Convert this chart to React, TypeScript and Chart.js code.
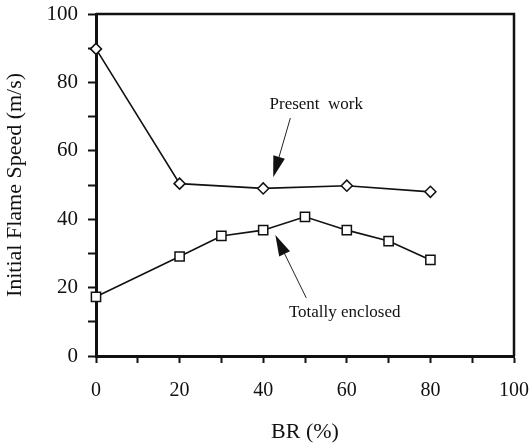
import React, { useEffect, useRef } from "react";
import { Chart, registerables } from "chart.js";

Chart.register(...registerables);

// Blockage ratio (%) for each series
const presentBR = [0, 20, 40, 60, 80];
const presentSpeed = [89.8, 50.4, 49.0, 49.8, 48.0];

const enclosedBR = [0, 20, 30, 40, 50, 60, 70, 80];
const enclosedSpeed = [17.3, 29.1, 35.1, 36.8, 40.7, 36.8, 33.6, 28.1];

const labeledTicks = [0, 20, 40, 60, 80, 100];

const SERIF = "'Liberation Serif', 'Times New Roman', serif";

// Callout text with an arrow pointing toward a curve (data coordinates)
const callouts = [
  { text: "Present  work", at: [52.7, 73.4], from: [46.5, 69.6], to: [42.4, 52.3] },
  { text: "Totally enclosed", at: [59.5, 12.6], from: [50.3, 17.0], to: [42.9, 35.4] },
];

const framePlugin = {
  id: "frameAndCallouts",
  afterDatasetsDraw(chart: any) {
    const { ctx, chartArea, scales } = chart;
    const xs = scales.x;
    const ys = scales.y;
    ctx.save();
    // top and right edges of the box
    ctx.strokeStyle = "#111";
    ctx.lineWidth = 2.5;
    ctx.beginPath();
    ctx.moveTo(chartArea.left, chartArea.top);
    ctx.lineTo(chartArea.right, chartArea.top);
    ctx.lineTo(chartArea.right, chartArea.bottom);
    ctx.stroke();

    ctx.font = `17px ${SERIF}`;
    ctx.fillStyle = "#111";
    ctx.textAlign = "center";
    ctx.textBaseline = "middle";
    for (const c of callouts) {
      ctx.fillText(c.text, xs.getPixelForValue(c.at[0]), ys.getPixelForValue(c.at[1]));
      const x1 = xs.getPixelForValue(c.from[0]);
      const y1 = ys.getPixelForValue(c.from[1]);
      const x2 = xs.getPixelForValue(c.to[0]);
      const y2 = ys.getPixelForValue(c.to[1]);
      const ang = Math.atan2(y2 - y1, x2 - x1);
      const headLen = 21;
      const headHalf = 6;
      const bx = x2 - headLen * Math.cos(ang);
      const by = y2 - headLen * Math.sin(ang);
      ctx.lineWidth = 1;
      ctx.strokeStyle = "#222";
      ctx.beginPath();
      ctx.moveTo(x1, y1);
      ctx.lineTo(bx, by);
      ctx.stroke();
      ctx.beginPath();
      ctx.moveTo(x2, y2);
      ctx.lineTo(bx + headHalf * Math.sin(ang), by - headHalf * Math.cos(ang));
      ctx.lineTo(bx - headHalf * Math.sin(ang), by + headHalf * Math.cos(ang));
      ctx.closePath();
      ctx.fill();
    }
    ctx.restore();
  },
};

export default function App() {
  const canvasRef = useRef<HTMLCanvasElement | null>(null);

  useEffect(() => {
    document.body.style.margin = "0";
    const canvas = canvasRef.current;
    if (!canvas) return;
    const chart = new Chart(canvas, {
      type: "scatter",
      data: {
        datasets: [
          {
            label: "Present work",
            data: presentBR.map((x, i) => ({ x, y: presentSpeed[i] })),
            showLine: true,
            clip: false,
            borderColor: "#111",
            borderWidth: 1.6,
            pointStyle: "rectRot",
            pointRadius: 5.5,
            pointBackgroundColor: "#fff",
            pointBorderColor: "#111",
            pointBorderWidth: 1.5,
          },
          {
            label: "Totally enclosed",
            data: enclosedBR.map((x, i) => ({ x, y: enclosedSpeed[i] })),
            showLine: true,
            clip: false,
            borderColor: "#111",
            borderWidth: 1.6,
            pointStyle: "rect",
            pointRadius: 6.5,
            pointBackgroundColor: "#fff",
            pointBorderColor: "#111",
            pointBorderWidth: 1.5,
          },
        ],
      },
      options: {
        animation: false,
        responsive: false,
        layout: { padding: { left: 0, right: 18, top: 14, bottom: 0 } },
        plugins: { legend: { display: false }, tooltip: { enabled: false } },
        scales: {
          x: {
            type: "linear",
            min: 0,
            max: 100,
            afterFit: (s: any) => {
              s.height = 92;
              s.paddingLeft = 0;
              s.paddingRight = 0;
            },
            border: { display: true, color: "#111", width: 3 },
            grid: { drawOnChartArea: false, drawTicks: true, tickLength: 7, tickWidth: 2, tickColor: "#111" },
            ticks: {
              stepSize: 10,
              padding: 16,
              color: "#111",
              font: { family: SERIF, size: 20 },
              maxRotation: 0,
              autoSkip: false,
              callback: (v: any) => (labeledTicks.includes(Number(v)) ? String(v) : ""),
            },
            title: {
              display: true,
              text: "BR (%)",
              color: "#111",
              font: { family: SERIF, size: 22 },
              padding: { top: 0, bottom: 3 },
            },
          },
          y: {
            type: "linear",
            min: 0,
            max: 100,
            afterFit: (s: any) => {
              s.width = 96;
              s.paddingTop = 0;
              s.paddingBottom = 0;
            },
            border: { display: true, color: "#111", width: 3 },
            grid: { drawOnChartArea: false, drawTicks: true, tickLength: 8, tickWidth: 2, tickColor: "#111" },
            ticks: {
              stepSize: 10,
              padding: 10,
              color: "#111",
              font: { family: SERIF, size: 21 },
              autoSkip: false,
              callback: (v: any) => (labeledTicks.includes(Number(v)) ? String(v) : ""),
            },
            title: {
              display: true,
              text: "Initial Flame Speed (m/s)",
              color: "#111",
              font: { family: SERIF, size: 22 },
              padding: { top: 2, bottom: 0 },
            },
          },
        },
      },
      plugins: [framePlugin],
    });
    return () => chart.destroy();
  }, []);

  return (
    <div style={{ width: 532, height: 448, background: "#fff" }}>
      <canvas ref={canvasRef} width={532} height={448} />
    </div>
  );
}
